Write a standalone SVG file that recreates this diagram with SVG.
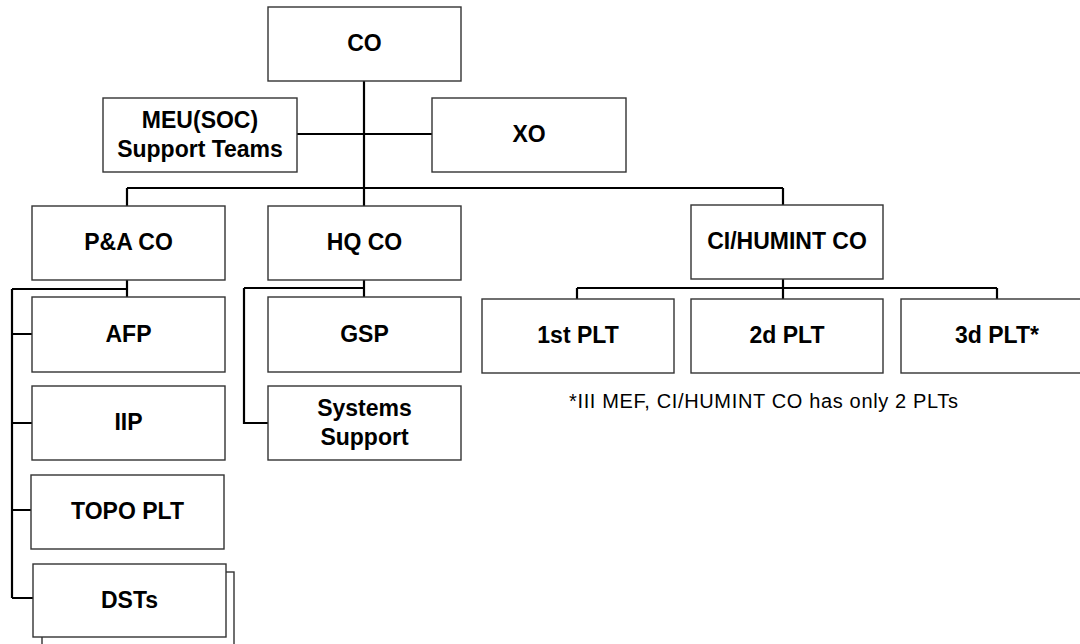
<svg xmlns="http://www.w3.org/2000/svg" width="1080" height="644" viewBox="0 0 1080 644">
<style>
.box{fill:#fff;stroke:#333;stroke-width:1.4}
.lbl{font-family:"Liberation Sans",Arial,Helvetica,sans-serif;font-weight:bold;font-size:23px;text-anchor:middle;fill:#000}
.note{font-family:"Liberation Sans",Arial,Helvetica,sans-serif;font-size:20px;fill:#000}
.con{fill:none;stroke:#000;stroke-width:2.2}
</style>
<rect width="1080" height="644" fill="#fff"/>
<g id="connectors">
<path class="con" d="M364,81 V206 M297,134 H432 M127,188 H783 M127,188 V206 M783,188 V205"/>
<path class="con" d="M127,280 V297 M12,289 H127 M12,289 V598 M12,334 H32 M12,423 H32 M12,510 H31 M12,598 H33"/>
<path class="con" d="M364,280 V297 M244,288 H364 M244,288 V423 H268"/>
<path class="con" d="M783,278 V299 M577,288 H997 M577,288 V299 M997,288 V299"/>
</g>
<g id="co"><rect class="box" x="268" y="7" width="193" height="74"/><text class="lbl" x="364.5" y="51">CO</text></g>
<g id="meu"><rect class="box" x="103" y="98" width="194" height="74"/><text class="lbl" x="200" y="128">MEU(SOC)</text><text class="lbl" x="200" y="157">Support Teams</text></g>
<g id="xo"><rect class="box" x="432" y="98" width="194" height="74"/><text class="lbl" x="529" y="142">XO</text></g>
<g id="pa"><rect class="box" x="32" y="206" width="193" height="74"/><text class="lbl" x="128.5" y="250">P&amp;A CO</text></g>
<g id="hq"><rect class="box" x="268" y="206" width="193" height="74"/><text class="lbl" x="364.5" y="250">HQ CO</text></g>
<g id="ci"><rect class="box" x="691" y="205" width="192" height="74"/><text class="lbl" x="787" y="249">CI/HUMINT CO</text></g>
<g id="afp"><rect class="box" x="32" y="297" width="193" height="75"/><text class="lbl" x="128.5" y="342">AFP</text></g>
<g id="iip"><rect class="box" x="32" y="386" width="193" height="74"/><text class="lbl" x="128.5" y="430">IIP</text></g>
<g id="topo"><rect class="box" x="31" y="475" width="193" height="74"/><text class="lbl" x="127.5" y="519">TOPO PLT</text></g>
<g id="dsts"><rect class="box" x="42" y="572" width="192" height="80"/><rect class="box" x="33" y="564" width="193" height="73"/><text class="lbl" x="129.5" y="608">DSTs</text></g>
<g id="gsp"><rect class="box" x="268" y="297" width="193" height="75"/><text class="lbl" x="364.5" y="342">GSP</text></g>
<g id="sys"><rect class="box" x="268" y="386" width="193" height="74"/><text class="lbl" x="364.5" y="416">Systems</text><text class="lbl" x="364.5" y="445">Support</text></g>
<g id="plt1"><rect class="box" x="482" y="299" width="192" height="74"/><text class="lbl" x="578" y="343">1st PLT</text></g>
<g id="plt2"><rect class="box" x="691" y="299" width="192" height="74"/><text class="lbl" x="787" y="343">2d PLT</text></g>
<g id="plt3"><rect class="box" x="901" y="299" width="193" height="74"/><text class="lbl" x="997" y="343">3d PLT*</text></g>
<g id="footnote"><text class="note" x="569" y="408" textLength="389" lengthAdjust="spacing">*III MEF, CI/HUMINT CO has only 2 PLTs</text></g>
</svg>
